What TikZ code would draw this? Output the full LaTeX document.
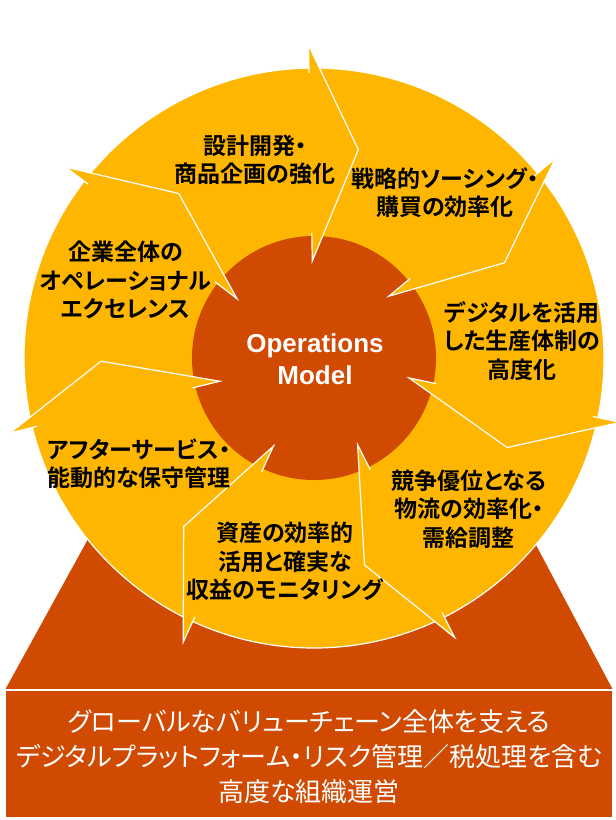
\documentclass[tikz,border=0pt]{standalone}
\usepackage{fontspec}
\setmainfont{Liberation Sans}
\newfontfamily\jp{Noto Sans CJK JP}[RawFeature=+palt,BoldFont={Noto Sans CJK JP Bold}]
\definecolor{ringyellow}{RGB}{255,182,0}
\definecolor{coreorange}{RGB}{208,74,2}
\tikzset{
    segtext/.style={
        font=\jp\bfseries\fontsize{23}{28.5}\selectfont,
        align=center,
        text=black,
        inner sep=0pt,
    },
    coretext/.style={
        font=\bfseries\fontsize{26}{32}\selectfont,
        align=center,
        text=white,
        inner sep=0pt,
    },
    basetext/.style={
        font=\jp\fontsize{26}{35}\selectfont,
        align=center,
        text=white,
        inner sep=0pt,
    },
    edgeline/.style={
        draw=white,
        line width=1.2pt,
    },
}

\begin{document}
\begin{tikzpicture}[x=1pt,y=1pt]
    \useasboundingbox (-314,-462) rectangle (302,358);
    % pedestal
    \fill[coreorange] (-309,-332) -- (-149.5,-42) -- (145,-42) -- (299,-332) -- cycle;
    \draw[edgeline,fill=coreorange] (-309,-332) rectangle (299,-460);
    % ring and core
    \draw[edgeline,fill=ringyellow] (0,0) circle (290);
    \fill[coreorange] (0,0) circle (122);
    % arrow heads
    \foreach \k [evaluate=\k as \b using 91-\k*360/7] in {0,...,6}{
        \fill[ringyellow] (\b:313) -- ({\b-13}:213) -- (\b:97) -- cycle;
        \draw[edgeline,line join=miter] (\b:285) -- (\b:313) -- ({\b-13}:213) -- (\b:97) -- (\b:125);
    }
    \node[coretext] (ops) at (1,-1) {Operations\\Model};
    \node[segtext] (design) at (-59,198) {設計開発・\\商品企画の強化};
    \node[segtext] (sourcing) at (131,165.5) {戦略的ソーシング・\\購買の効率化};
    \node[segtext] (production) at (208,17) {デジタルを活用\\した生産体制の\\高度化};
    \node[segtext] (logistics) at (155,-151) {競争優位となる\\物流の効率化・\\需給調整};
    \node[segtext] (assets) at (-29,-203.5) {資産の効率的\\活用と確実な\\収益のモニタリング};
    \node[segtext] (service) at (-175,-106) {アフターサービス・\\能動的な保守管理};
    \node[segtext] (excellence) at (-188.5,78) {企業全体の\\オペレーショナル\\エクセレンス};
    \node[basetext] (platform) at (-5,-399) {グローバルなバリューチェーン全体を支える\\デジタルプラットフォーム・リスク管理／税処理を含む\\高度な組織運営};
\end{tikzpicture}
\end{document}
